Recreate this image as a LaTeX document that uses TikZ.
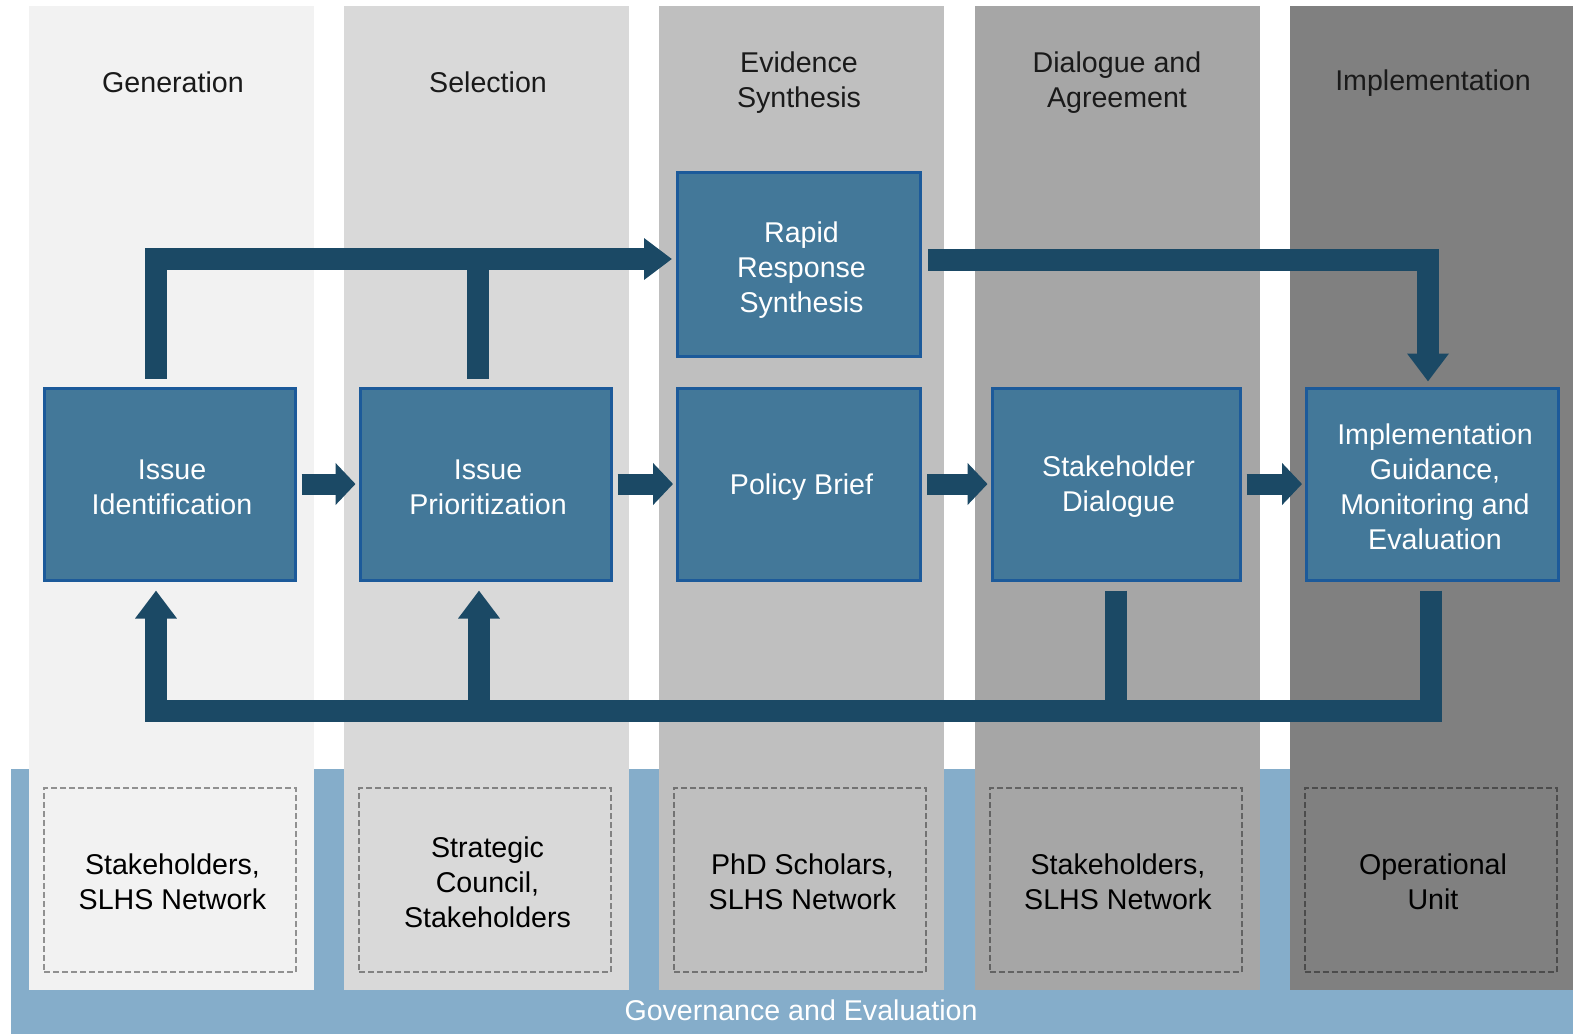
\documentclass[tikz,border=0pt]{standalone}
\usepackage{fontspec}
\setmainfont{Liberation Sans}
\usetikzlibrary{arrows.meta,calc}
\definecolor{colA}{HTML}{F2F2F2}
\definecolor{colB}{HTML}{D9D9D9}
\definecolor{colC}{HTML}{BFBFBF}
\definecolor{colD}{HTML}{A6A6A6}
\definecolor{colE}{HTML}{808080}
\definecolor{bandc}{HTML}{85ADCA}
\definecolor{boxfill}{HTML}{437899}
\definecolor{boxline}{HTML}{1C5A9A}
\definecolor{arrowc}{HTML}{1B4965}
\definecolor{hdrtext}{HTML}{1A1A1A}
\newcommand\dfont{\fontsize{14.3pt}{17.5pt}\selectfont}
\begin{document}
\begin{tikzpicture}[x=0.5pt,y=-0.5pt,
  procbox/.style={draw=boxline, line width=1.5pt, fill=boxfill,
    inner sep=0pt, minimum height=96pt},
  proctext/.style={align=center, font=\dfont, text=white, inner sep=0pt,
    xshift=1.25pt, yshift=-1.5pt},
  rolebox/.style={draw=black, draw opacity=0.4, line width=1pt,
    dash pattern=on 3pt off 1.5pt, inner sep=0pt,
    minimum width=126pt, minimum height=92pt},
  roletext/.style={align=center, font=\dfont, text=black, inner sep=0pt,
    xshift=1.25pt, yshift=-1pt},
  hdr/.style={align=center, font=\dfont, text=hdrtext, inner sep=0pt,
    xshift=1pt, yshift=-1.5pt},
  flow/.style={draw=arrowc, line width=11pt, line join=miter, line cap=butt},
  bigtip/.style={-{Triangle[width=20pt,length=14pt]}},
  sflow/.style={draw=arrowc, line width=10.5pt, line cap=butt,
    -{Triangle[width=20.5pt,length=10pt]}, shorten <=2.5pt, shorten >=1.5pt}]
\useasboundingbox (0,0) rectangle (1573,1034);
\fill[white] (0,0) rectangle (1573,1034);
% governance band
\fill[bandc] (11,769) rectangle (1573,1034);
% columns
\fill[colA] (29,6) rectangle (314,990);
\fill[colB] (344,6) rectangle (629,990);
\fill[colC] (659,6) rectangle (944,990);
\fill[colD] (975,6) rectangle (1260,990);
\fill[colE] (1290,6) rectangle (1573,990);
% headers
\node[hdr] (h1) at (171,79) {Generation};
\node[hdr] (h2) at (486,79) {Selection};
\node[hdr] (h3) at (797,80) {Evidence\\Synthesis};
\node[hdr] (h4) at (1115,80) {Dialogue and\\Agreement};
\node[hdr] (h5) at (1431,80) {Implementation};
% process boxes
\node[procbox, minimum width=125.5pt] (n1) at (169.5,484) {};
\node[procbox, minimum width=125.5pt] (n2) at (485.5,484) {};
\node[procbox, minimum width=121.5pt] (n3) at (799,484) {};
\node[procbox, minimum width=121.5pt, minimum height=92pt] (rapid) at (799,264) {};
\node[procbox, minimum width=124pt] (n4) at (1116,484) {};
\node[procbox, minimum width=126pt] (n5) at (1432.5,484) {};
\node[proctext] (t1) at (n1) {Issue\\Identification};
\node[proctext] (t2) at (n2) {Issue\\Prioritization};
\node[proctext] (t3) at (n3) {Policy Brief};
\node[proctext, yshift=-1.5pt] (tr) at (rapid) {Rapid\\Response\\Synthesis};
\node[proctext] (t4) at (n4) {Stakeholder\\Dialogue};
\node[proctext] (t5) at (n5) {Implementation\\Guidance,\\Monitoring and\\Evaluation};
% role boxes
\node[rolebox] (d1) at (170,880) {};
\node[rolebox] (d2) at (485,880) {};
\node[rolebox] (d3) at (800,880) {};
\node[rolebox] (d4) at (1115.5,880) {};
\node[rolebox] (d5) at (1430.5,880) {};
\node[roletext] (r1) at (d1) {Stakeholders,\\SLHS Network};
\node[roletext] (r2) at (d2) {Strategic\\Council,\\Stakeholders};
\node[roletext] (r3) at (d3) {PhD Scholars,\\SLHS Network};
\node[roletext] (r4) at (d4) {Stakeholders,\\SLHS Network};
\node[roletext] (r5) at (d5) {Operational\\Unit};
% band label
\node[font=\dfont, text=white, inner sep=0pt] (gov) at (801,1010) {Governance and Evaluation};
% short arrows
\draw[sflow] (n1.east) -- (n2.west);
\draw[sflow] (n2.east) -- (n3.west);
\draw[sflow] (n3.east) -- (n4.west);
\draw[sflow] (n4.east) -- (n5.west);
% top connectors
\coordinate (tA) at (156,259);
\coordinate (tB) at (478,259);
\coordinate (tC) at (1428,260);
\draw[flow] ($(n2.north -| tB)+(0,-8)$) -- (tB);
\draw[flow, bigtip] ($(n1.north -| tA)+(0,-8)$) -- (tA) -- ($(tA -| rapid.west)+(-4,0)$);
\draw[flow, bigtip] ($(rapid.east |- tC)+(6,0)$) -- (tC) -- ($(tC |- n5.north)+(0,-5)$);
% bottom feedback
\coordinate (bL) at (156,711);
\coordinate (bB) at (479,711);
\coordinate (bR) at (1431,711);
\draw[flow] ($(n4.south)+(0,9)$) -- (n4.south |- bR);
\draw[flow, bigtip] (bB) -- ($(n2.south -| bB)+(0,9)$);
\draw[flow, bigtip] ($(n5.south -| bR)+(0,9)$) -- (bR) -- (bL) -- ($(n1.south -| bL)+(0,9)$);
\end{tikzpicture}
\end{document}
